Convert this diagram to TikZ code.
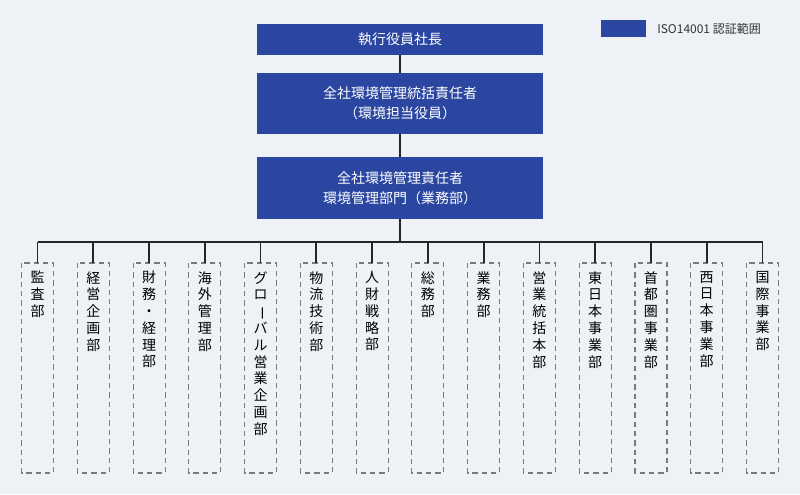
\documentclass[tikz,border=0pt]{standalone}
\usepackage{fontspec}
\setmainfont{Noto Sans CJK JP}
\definecolor{bg}{HTML}{EEF2F6}
\definecolor{bl}{HTML}{2A46A0}
\definecolor{dg}{HTML}{7A7A7A}
\begin{document}
\begin{tikzpicture}[x=0.75pt,y=-0.75pt,
 topbox/.style={fill=bl,text=white,font=\fontsize{10.5}{15}\selectfont,align=center,inner sep=0},
 dept/.style={draw=dg,dashed,line width=0.8pt,dash pattern=on 4pt off 3pt},
 vtext/.style={anchor=north,align=center,font=\fontsize{10.5}{12.6}\selectfont,inner sep=0},
 conn/.style={line width=1.3pt,draw=black!85}]
\fill[bg] (0,0) rectangle (800,494);
\useasboundingbox (0,0) rectangle (800,494);
\node[topbox,minimum width=215pt,minimum height=23.25pt] (a) at (400,39.5) {執行役員社長};
\node[topbox,minimum width=215pt,minimum height=45.75pt] (b) at (400,103.5) {全社環境管理統括責任者\\（環境担当役員）};
\node[topbox,minimum width=215pt,minimum height=46.5pt] (c) at (400,188) {全社環境管理責任者\\環境管理部門（業務部）};
\fill[bl] (601,20) rectangle (646,37);
\node[anchor=west,font=\fontsize{9}{11}\selectfont,text=black!80,inner sep=0] (lg) at (657,29) {ISO14001 認証範囲};
\draw[conn] (a) -- (b);
\draw[conn] (b) -- (c);
\coordinate (h) at (400,242);
\draw[conn] (c.south) -- (h);
\coordinate (hl) at (37.5,242);
\coordinate (hr) at (762.5,242);
\draw[conn] (hl) -- (hr);
\newcommand{\vb}{\rotatebox[origin=c]{-90}{ー}}
\foreach \t [count=\i] in {
 {監\\査\\部},
 {経\\営\\企\\画\\部},
 {財\\務\\・\\経\\理\\部},
 {海\\外\\管\\理\\部},
 {グ\\ロ\\\vb\\バ\\ル\\営\\業\\企\\画\\部},
 {物\\流\\技\\術\\部},
 {人\\財\\戦\\略\\部},
 {総\\務\\部},
 {業\\務\\部},
 {営\\業\\統\\括\\本\\部},
 {東\\日\\本\\事\\業\\部},
 {首\\都\\圏\\事\\業\\部},
 {西\\日\\本\\事\\業\\部},
 {国\\際\\事\\業\\部}}{
 \pgfmathsetmacro{\cx}{37.5+(\i-1)*55.77}
 \coordinate (t\i) at (\cx,242);
 \draw[dept] (\cx-16,263) rectangle (\cx+16,473);
 \node[vtext] (d\i) at (\cx,271) {\t};
 \draw[conn] (t\i) -- (\cx,263);
}
\end{tikzpicture}
\end{document}
